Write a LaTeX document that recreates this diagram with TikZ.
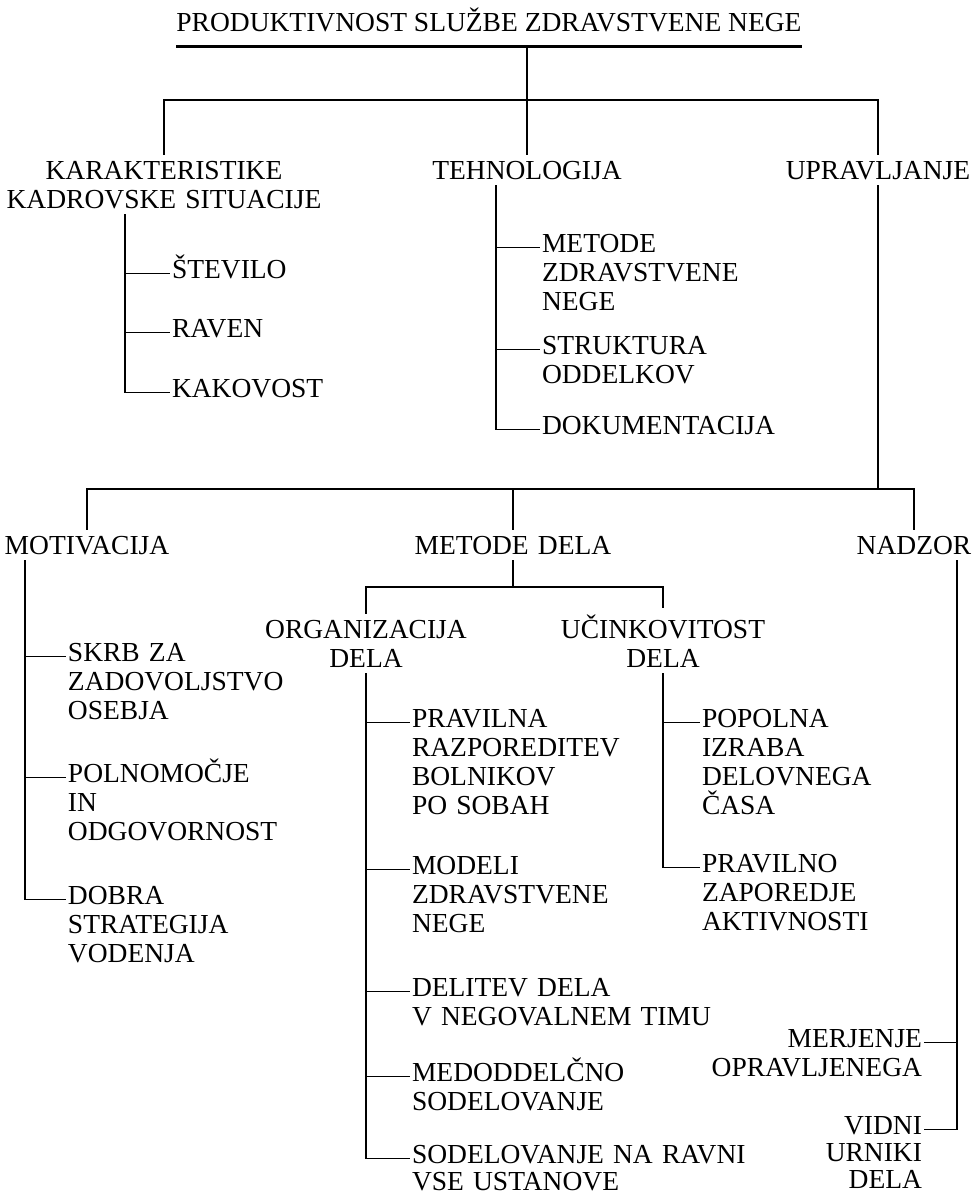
\documentclass[tikz,border=0pt]{standalone}
\usepackage{fontspec}
\setmainfont{Liberation Serif}
\usepackage{tikz}

\tikzset{
  lbl/.style={inner sep=0pt, font=\fontsize{13.75}{14.5}\selectfont},
  head/.style={lbl, align=center, anchor=base, outer ysep=3pt, text width=#1},
  head/.default=170pt,
  leaf/.style={lbl, align=left, anchor=base west, outer xsep=1pt, text width=170pt},
  rleaf/.style={lbl, align=right, anchor=base east, outer xsep=1pt, text width=120pt},
  title/.style={lbl, anchor=base, inner ysep=7.5pt, text depth=0pt},
  tree/.style={line width=0.8pt},
  uline/.style={line width=1.2pt}
}

\begin{document}
\begin{tikzpicture}[x=0.5pt, y=-0.5pt]
    \useasboundingbox (0,0) rectangle (971,1195);

    \node[title] (title) at (489,31) {PRODUKTIVNOST SLUŽBE ZDRAVSTVENE NEGE};

    \node[head] (karak) at (164,179) {KARAKTERISTIKE\\KADROVSKE SITUACIJE};
    \node[head] (tehno) at (527,179) {TEHNOLOGIJA};
    \node[head] (uprav) at (878,179) {UPRAVLJANJE};

    \node[leaf] (stevilo) at (170,278) {ŠTEVILO};
    \node[leaf] (raven) at (170,337) {RAVEN};
    \node[leaf] (kakovost) at (170,397) {KAKOVOST};

    \node[leaf] (metode) at (540,252) {METODE\\ZDRAVSTVENE\\NEGE};
    \node[leaf] (struktura) at (540,354) {STRUKTURA\\ODDELKOV};
    \node[leaf] (dokum) at (540,434) {DOKUMENTACIJA};

    \node[head] (motiv) at (87,554) {MOTIVACIJA};
    \node[head] (metdela) at (513,554) {METODE DELA};
    \node[head] (nadzor) at (914,554) {NADZOR};

    \node[leaf] (skrb) at (66,661) {SKRB ZA\\ZADOVOLJSTVO\\OSEBJA};
    \node[leaf] (polnom) at (66,782) {POLNOMOČJE\\IN\\ODGOVORNOST};
    \node[leaf] (dobra) at (66,904) {DOBRA\\STRATEGIJA\\VODENJA};

    \node[head=110pt] (orgdela) at (366,638) {ORGANIZACIJA\\DELA};
    \node[head=110pt] (ucink) at (663,638) {UČINKOVITOST\\DELA};

    \node[leaf] (pravilna) at (410,727) {PRAVILNA\\RAZPOREDITEV\\BOLNIKOV\\PO SOBAH};
    \node[leaf] (modeli) at (410,874) {MODELI\\ZDRAVSTVENE\\NEGE};
    \node[leaf] (delitev) at (410,996) {DELITEV DELA\\V NEGOVALNEM TIMU};
    \node[leaf] (medodd) at (410,1081) {MEDODDELČNO\\SODELOVANJE};
    \node[leaf, font=\fontsize{13.75}{13.5}\selectfont] (sodel) at (410,1163) {SODELOVANJE NA RAVNI\\VSE USTANOVE};

    \node[leaf, text width=120pt] (popolna) at (700,727) {POPOLNA\\IZRABA\\DELOVNEGA\\ČASA};
    \node[leaf, text width=120pt] (pravilno) at (700,872) {PRAVILNO\\ZAPOREDJE\\AKTIVNOSTI};

    \node[rleaf] (merj) at (924,1047) {MERJENJE\\OPRAVLJENEGA};
    \node[rleaf, font=\fontsize{13.75}{13.5}\selectfont] (vidni) at (924,1134) {VIDNI\\URNIKI\\DELA};

    % bars and verticals
    \coordinate (bar1) at (0,100);
    \coordinate (bar2) at (0,489);
    \coordinate (bar3) at (0,587);
    \coordinate (kv) at (125,0);
    \coordinate (tv) at (496,0);
    \coordinate (mv) at (25,0);
    \coordinate (nv) at (957,0);

    \draw[uline] (title.south west) -- (title.south east);

    \draw[tree] (tehno.north |- title.south) -- (tehno.north);
    \draw[tree] (karak.north) -- (karak.north |- bar1) -| (uprav.north);

    \draw[tree] (kv |- karak.south) |- (kakovost.mid west);
    \draw[tree] (kv |- stevilo.mid west) -- (stevilo.mid west);
    \draw[tree] (kv |- raven.mid west) -- (raven.mid west);

    \draw[tree] (tv |- tehno.south) |- (dokum.mid west);
    \draw[tree] (tv |- metode.mid west) -- (metode.mid west);
    \draw[tree] (tv |- struktura.mid west) -- (struktura.mid west);

    \draw[tree] (uprav.south) -- (uprav.south |- bar2);
    \draw[tree] (motiv.north) -- (motiv.north |- bar2) -| (nadzor.north);
    \draw[tree] (metdela.north) -- (metdela.north |- bar2);

    \draw[tree] (mv |- motiv.south) |- (dobra.mid west);
    \draw[tree] (mv |- skrb.mid west) -- (skrb.mid west);
    \draw[tree] (mv |- polnom.mid west) -- (polnom.mid west);

    \draw[tree] (metdela.south) -- (metdela.south |- bar3);
    \draw[tree] (orgdela.north) -- (orgdela.north |- bar3) -| (ucink.north);

    \draw[tree] (orgdela.south) |- (sodel.mid west);
    \draw[tree] (orgdela.south |- pravilna.mid west) -- (pravilna.mid west);
    \draw[tree] (orgdela.south |- modeli.mid west) -- (modeli.mid west);
    \draw[tree] (orgdela.south |- delitev.mid west) -- (delitev.mid west);
    \draw[tree] (orgdela.south |- medodd.mid west) -- (medodd.mid west);

    \draw[tree] (ucink.south) |- (pravilno.mid west);
    \draw[tree] (ucink.south |- popolna.mid west) -- (popolna.mid west);

    \draw[tree] (nv |- nadzor.south) |- (vidni.mid east);
    \draw[tree] (nv |- merj.mid east) -- (merj.mid east);
\end{tikzpicture}
\end{document}
